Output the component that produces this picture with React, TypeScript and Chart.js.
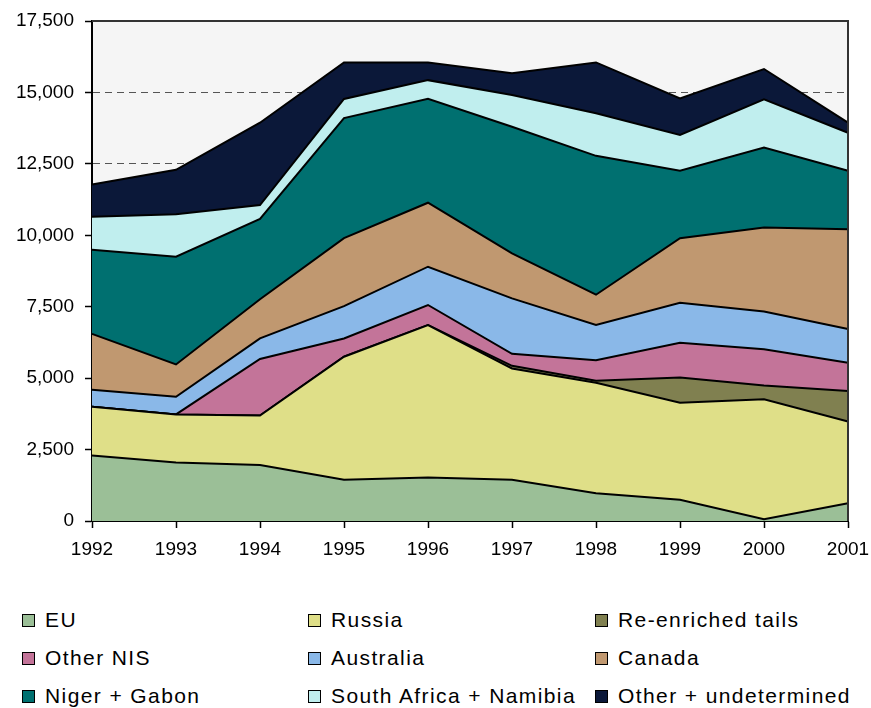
import React, { useEffect, useLayoutEffect, useRef } from "react";
import { Chart, registerables } from "chart.js";

Chart.register(...registerables);

const years = ["1992", "1993", "1994", "1995", "1996", "1997", "1998", "1999", "2000", "2001"];

const eu = [2290, 2050, 1960, 1440, 1520, 1440, 970, 740, 60, 620];
const russia = [1710, 1680, 1730, 4310, 5340, 3900, 3870, 3400, 4200, 2860];
const reEnrichedTails = [0, 0, 0, 0, 0, 90, 70, 880, 480, 1070];
const otherNIS = [0, 0, 1980, 640, 700, 420, 720, 1220, 1270, 990];
const australia = [590, 620, 720, 1130, 1340, 1940, 1230, 1400, 1320, 1180];
const canada = [1960, 1130, 1370, 2380, 2240, 1580, 1060, 2260, 2940, 3490];
const nigerGabon = [2940, 3770, 2810, 4200, 3640, 4430, 4860, 2360, 2800, 2050];
const southAfricaNamibia = [1160, 1490, 490, 670, 650, 1110, 1490, 1250, 1690, 1330];
const otherUndetermined = [1130, 1550, 2880, 1280, 620, 760, 1780, 1280, 1060, 350];

const seriesNames = [
  "EU",
  "Russia",
  "Re-enriched tails",
  "Other NIS",
  "Australia",
  "Canada",
  "Niger + Gabon",
  "South Africa + Namibia",
  "Other + undetermined",
];
const seriesData = [eu, russia, reEnrichedTails, otherNIS, australia, canada, nigerGabon, southAfricaNamibia, otherUndetermined];
const seriesColors = [
  "#9bbf97",
  "#dfdf88",
  "#808050",
  "#c37499",
  "#8ab8e8",
  "#c09870",
  "#007070",
  "#c0eeee",
  "#0b1839",
];

const yTicks = [0, 2500, 5000, 7500, 10000, 12500, 15000, 17500];

const FONT = "'Liberation Sans', Arial, sans-serif";

const bgPlugin = {
  id: "plotBg",
  beforeDraw(chart: any) {
    const { ctx, chartArea } = chart;
    ctx.save();
    ctx.fillStyle = "#f5f5f5";
    ctx.fillRect(chartArea.left, chartArea.top, chartArea.right - chartArea.left, chartArea.bottom - chartArea.top);
    ctx.restore();
  },
  afterDraw(chart: any) {
    const { ctx, chartArea } = chart;
    ctx.save();
    ctx.strokeStyle = "#333";
    ctx.lineWidth = 2;
    ctx.beginPath();
    ctx.moveTo(chartArea.left, chartArea.top);
    ctx.lineTo(chartArea.right, chartArea.top);
    ctx.lineTo(chartArea.right, chartArea.bottom);
    ctx.stroke();
    ctx.restore();
  },
};

function ChartCanvas() {
  const ref = useRef<HTMLCanvasElement | null>(null);
  useEffect(() => {
    if (!ref.current) return;
    const chart = new Chart(ref.current, {
      type: "line",
      data: {
        labels: years,
        datasets: seriesNames.map((name, i) => ({
          label: name,
          data: seriesData[i],
          backgroundColor: seriesColors[i],
          borderColor: "#000",
          borderWidth: 2,
          pointRadius: 0,
          tension: 0,
          fill: i === 0 ? "origin" : "-1",
        })),
      },
      options: {
        responsive: false,
        animation: false,
        layout: { padding: { left: 0, top: 13, right: 23, bottom: 0 } },
        plugins: { legend: { display: false }, tooltip: { enabled: false } },
        scales: {
          x: {
            type: "category",
            offset: false,
            grid: { display: true, drawOnChartArea: false, tickLength: 7, tickColor: "#000", tickWidth: 1.5 },
            border: { display: true, color: "#000", width: 2 },
            ticks: { color: "#000", font: { family: FONT, size: 19 }, padding: 10, maxRotation: 0, autoSkip: false },
            afterFit: (s: any) => {
              s.height = 62;
              s.paddingLeft = 0;
              s.paddingRight = 0;
            },
          },
          y: {
            stacked: true,
            min: 0,
            max: 17500,
            afterBuildTicks: (s: any) => {
              s.ticks = yTicks.map((v) => ({ value: v }));
            },
            grid: { color: "#555", lineWidth: 1, tickLength: 7, tickColor: "#000", tickWidth: 1.5 },
            border: { display: true, color: "#000", width: 2, dash: [7, 5] },
            ticks: {
              color: "#000",
              font: { family: FONT, size: 19 },
              padding: 11,
              callback: (v: any) => Number(v).toLocaleString("en-US"),
            },
            afterFit: (s: any) => {
              s.width = 84;
              s.paddingTop = 0;
              s.paddingBottom = 0;
            },
          },
        },
      },
      plugins: [bgPlugin],
    });
    return () => chart.destroy();
  }, []);
  return (
    <canvas
      ref={ref}
      width={863}
      height={575}
      style={{ display: "block", position: "absolute", left: 8, top: 8 }}
    />
  );
}

const legendCols = [22, 308, 595];
const legendRows = [620, 658, 696];

export default function App() {
  useLayoutEffect(() => {
    document.body.style.margin = "0";
    document.body.style.overflow = "hidden";
  }, []);
  return (
    <div style={{ position: "relative", width: 871, height: 708, overflow: "hidden", background: "#fff" }}>
      <ChartCanvas />
      {seriesNames.map((name, i) => {
        const col = i % 3;
        const row = Math.floor(i / 3);
        return (
          <div
            key={name}
            style={{
              position: "absolute",
              left: legendCols[col],
              top: legendRows[row] - 14,
              height: 28,
              display: "flex",
              alignItems: "center",
              fontFamily: FONT,
              fontSize: 21,
              letterSpacing: "1.4px",
              color: "#000",
              whiteSpace: "nowrap",
            }}
          >
            <span
              style={{
                display: "inline-block",
                width: 11,
                height: 11,
                border: "1px solid #000",
                background: seriesColors[i],
                marginRight: 10,
              }}
            />
            <span>{name}</span>
          </div>
        );
      })}
    </div>
  );
}
